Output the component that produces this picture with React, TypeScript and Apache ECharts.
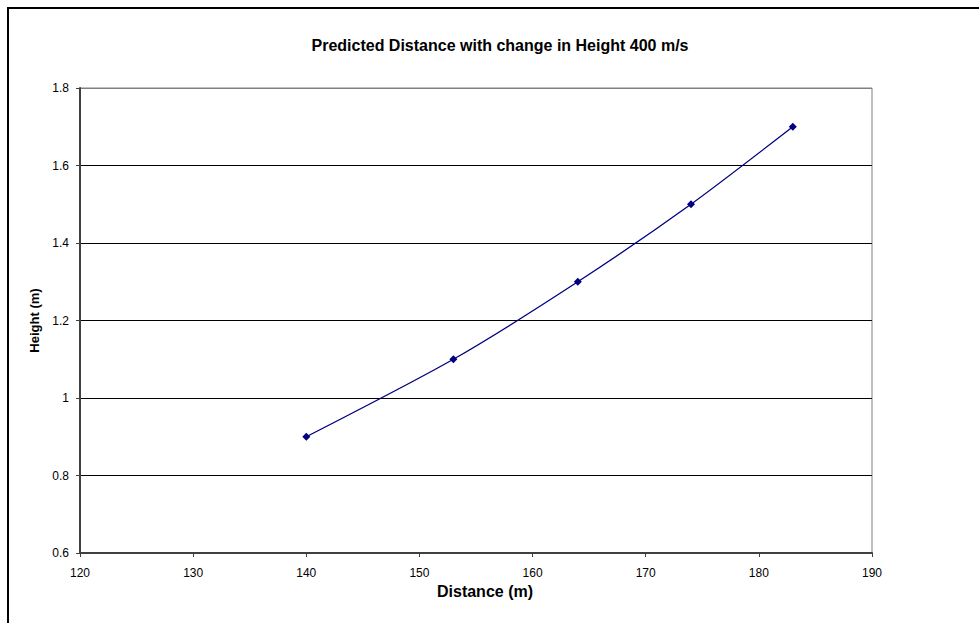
import React, { useEffect, useRef } from "react";
import * as echarts from "echarts";

const distances = [140, 153, 164, 174, 183];
const heights = [0.9, 1.1, 1.3, 1.5, 1.7];
const titleText = "Predicted Distance with change in Height 400 m/s";
const xName = "Distance (m)";
const yName = "Height (m)";

export default function App() {
  const ref = useRef<HTMLDivElement>(null);
  useEffect(() => {
    document.body.style.margin = "0";
    const chart = echarts.init(ref.current!, null, { renderer: "svg" });
    const font = "Liberation Sans, Arial, sans-serif";
    chart.setOption({
      animation: false,
      backgroundColor: "#ffffff",
      title: {
        text: titleText,
        left: 495,
        top: 32,
        textAlign: "center",
        textStyle: { fontFamily: font, fontSize: 16, fontWeight: "bold", color: "#000" },
      },
      graphic: [
        {
          type: "rect",
          shape: { x: 8, y: 8, width: 1200, height: 1200 },
          style: { fill: "none", stroke: "#000", lineWidth: 2 },
          silent: true,
          z: 100,
        },
      ],
      grid: {
        left: 80,
        top: 88,
        right: 107,
        bottom: 70,
        show: true,
        borderColor: "#808080",
        borderWidth: 1,
        backgroundColor: "#fff",
      },
      xAxis: {
        type: "value",
        min: 120,
        max: 190,
        interval: 10,
        name: xName,
        nameLocation: "middle",
        nameGap: 29,
        nameTextStyle: {
          fontFamily: font,
          fontSize: 16,
          fontWeight: "bold",
          color: "#000",
          padding: [0, 0, 0, 18],
        },
        axisLine: { show: true, lineStyle: { color: "#404040", width: 2 } },
        axisTick: { show: true, length: 4, inside: false, lineStyle: { color: "#404040" } },
        axisLabel: { fontFamily: font, fontSize: 12, color: "#000", margin: 14 },
        splitLine: { show: false },
      },
      yAxis: {
        type: "value",
        min: 0.6,
        max: 1.8,
        interval: 0.2,
        name: yName,
        nameLocation: "middle",
        nameGap: 36,
        nameRotate: 90,
        nameTextStyle: { fontFamily: font, fontSize: 13, fontWeight: "bold", color: "#000" },
        axisLine: { show: true, lineStyle: { color: "#404040", width: 2 } },
        axisTick: { show: true, length: 4, lineStyle: { color: "#404040" } },
        axisLabel: {
          fontFamily: font,
          fontSize: 12,
          color: "#000",
          margin: 11,
          formatter: (v: number) => String(Math.round(v * 10) / 10),
        },
        splitLine: {
          show: true,
          lineStyle: {
            color: ["#808080", "#000", "#000", "#000", "#000", "#000", "#808080"],
            width: 1,
          },
        },
      },
      series: [
        {
          type: "line",
          data: distances.map((d, i) => [d, heights[i]]),
          smooth: 0.25,
          symbol: "diamond",
          symbolSize: 8,
          itemStyle: { color: "#000080" },
          lineStyle: { color: "#000080", width: 1.3 },
        },
      ],
    });
    return () => chart.dispose();
  }, []);
  return (
    <div
      ref={ref}
      style={{ position: "absolute", left: 0, top: 0, width: 979, height: 623 }}
    />
  );
}
